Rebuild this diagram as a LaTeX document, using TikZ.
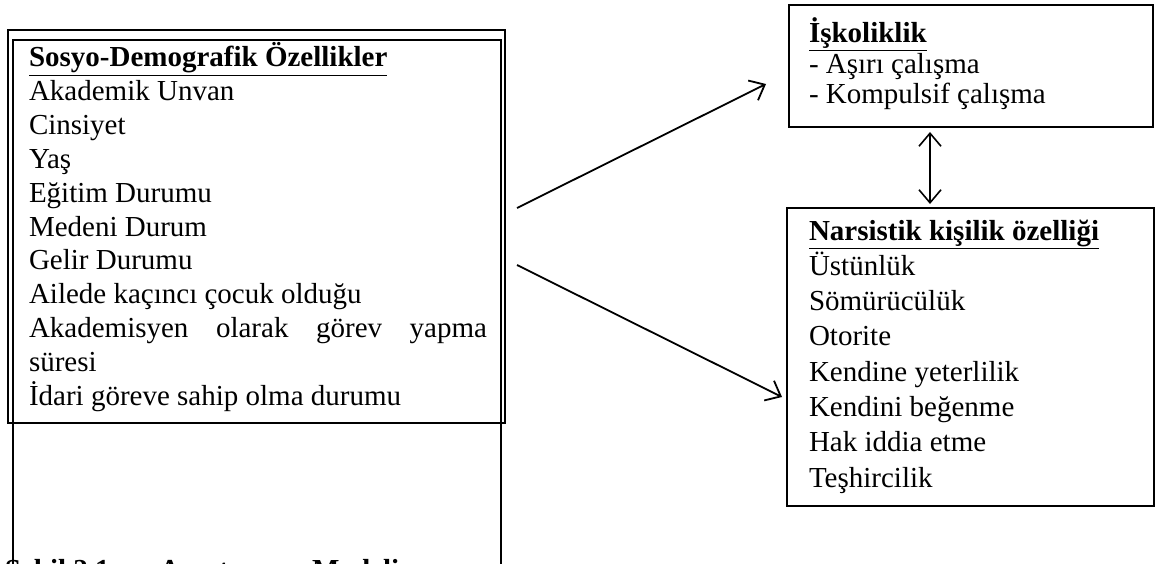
\documentclass[tikz,border=0pt]{standalone}
\usepackage{fontspec}
\setmainfont{Liberation Serif}
\usetikzlibrary{arrows.meta}
\begin{document}
\begin{tikzpicture}[x=1pt,y=-1pt,
  txt/.style={anchor=base west, inner sep=0pt, outer sep=0pt, font=\fontsize{29}{33}\selectfont},
  hd/.style={anchor=base west, inner sep=0pt, outer sep=0pt, font=\fontsize{29}{33}\selectfont\bfseries},
  captxt/.style={anchor=base west, inner sep=0pt, outer sep=0pt, font=\fontsize{29}{33}\selectfont\bfseries},
  frame/.style={draw, line width=1.5pt, inner sep=0pt, outer sep=0pt, anchor=north west},
  arr/.style={-{Straight Barb[length=13pt,width=22pt]}, line width=1.8pt},
  darr/.style={{Straight Barb[length=13pt,width=22pt]}-{Straight Barb[length=13pt,width=22pt]}, line width=1.6pt}]
\useasboundingbox (0,0) rectangle (1155,564);
\clip (0,0) rectangle (1155,564);
% left frames
\node[frame, minimum width=497pt, minimum height=393pt] (outerA) at (8,30) {};
\node[frame, minimum width=488pt, minimum height=570pt] (outerB) at (13,40) {};
% left text
\node[hd] (t0) at (29,67) {\underline{Sosyo-Demografik Özellikler}};
\node[txt] (t1) at (29,100.8) {Akademik Unvan};
\node[txt] (t2) at (29,134.6) {Cinsiyet};
\node[txt] (t3) at (29,168.4) {Yaş};
\node[txt] (t4) at (29,202.2) {Eğitim Durumu};
\node[txt] (t5) at (29,236) {Medeni Durum};
\node[txt] (t6) at (29,269.8) {Gelir Durumu};
\node[txt] (t7) at (29,303.6) {Ailede kaçıncı çocuk olduğu};
\node[txt] (t8) at (29,337.4) {\makebox[458pt][s]{Akademisyen olarak görev yapma}};
\node[txt] (t9) at (29,371.2) {süresi};
\node[txt] (t10) at (29,405) {İdari göreve sahip olma durumu};
% right top box
\node[frame, minimum width=364pt, minimum height=122pt] (isk) at (789,5) {};
\node[hd] (r0) at (809,42.5) {\underline{İşkoliklik}};
\node[txt] (r1) at (809,74) {- Aşırı çalışma};
\node[txt] (r2) at (809,104) {- Kompulsif çalışma};
% right lower box
\node[frame, minimum width=367pt, minimum height=298pt] (nar) at (787,208) {};
\node[hd] (n0) at (809,240) {\underline{Narsistik kişilik özelliği}};
\node[txt] (n1) at (809,275.3) {Üstünlük};
\node[txt] (n2) at (809,310.6) {Sömürücülük};
\node[txt] (n3) at (809,345.9) {Otorite};
\node[txt] (n4) at (809,381.2) {Kendine yeterlilik};
\node[txt] (n5) at (809,416.5) {Kendini beğenme};
\node[txt] (n6) at (809,451.8) {Hak iddia etme};
\node[txt] (n7) at (809,487.1) {Teşhircilik};
% arrows
\coordinate (s1) at (517,208);
\coordinate (e1) at (766,84);
\coordinate (s2) at (517,265);
\coordinate (e2) at (782,397);
\coordinate (d1) at (930,132);
\coordinate (d2) at (930,204);
\draw[arr] (s1) -- (e1);
\draw[arr] (s2) -- (e2);
\draw[darr] (d1) -- (d2);
% caption (mostly below the visible edge)
\node[captxt] (c1) at (5,579) {Şekil 2.1:\hspace{40pt}Araştırma\hspace{24pt}Modeli};
\end{tikzpicture}
\end{document}
